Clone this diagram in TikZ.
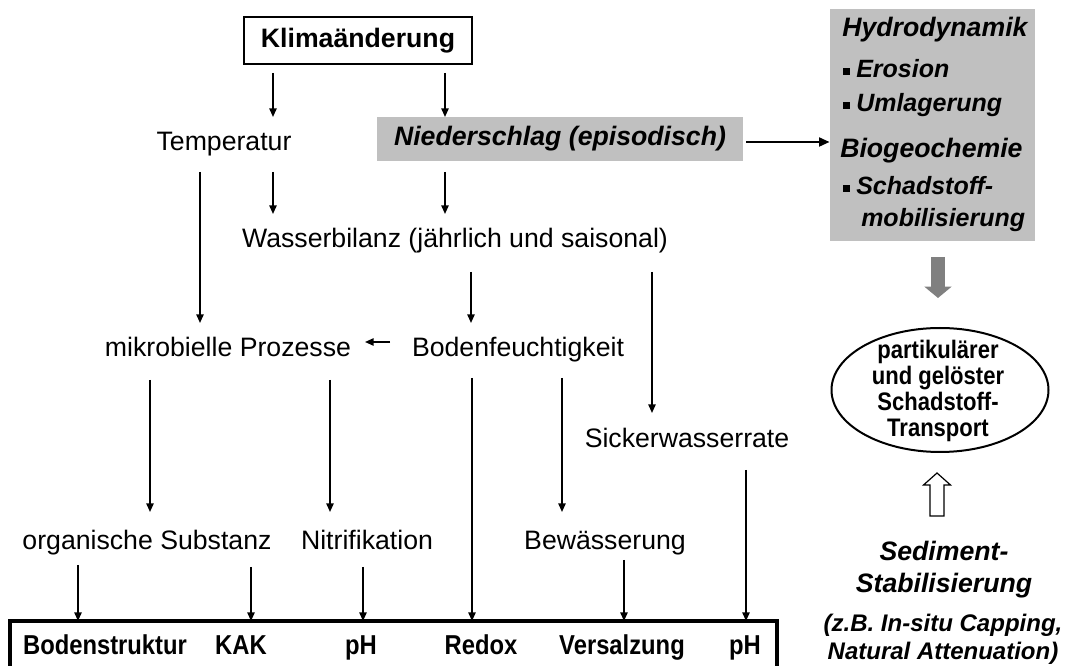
\documentclass[tikz,border=0pt]{standalone}
\usepackage{fontspec}
\setmainfont{Liberation Sans}
\newfontfamily\condsans{Liberation Sans}[FakeStretch=0.87]
\usetikzlibrary{arrows.meta,shapes.geometric}
\definecolor{boxgray}{RGB}{192,192,192}
\definecolor{arrgray}{RGB}{128,128,128}
\begin{document}
\begin{tikzpicture}[x=0.75pt,y=-0.75pt,
  reg/.style={font=\fontsize{20}{24}\selectfont, inner sep=0pt, anchor=base},
  bot/.style={font=\condsans\fontsize{20.5}{24}\selectfont\bfseries, inner sep=0pt, anchor=base},
  hd/.style={font=\fontsize{20}{24}\selectfont\bfseries\itshape, inner sep=0pt, anchor=base west},
  bl/.style={font=\fontsize{18.75}{22}\selectfont\bfseries\itshape, inner sep=0pt, anchor=base west},
  sedA/.style={font=\fontsize{20}{24}\selectfont\bfseries\itshape, inner sep=0pt, anchor=base},
  sedB/.style={font=\fontsize{18}{21}\selectfont\bfseries\itshape, inner sep=0pt, anchor=base},
  arr/.style={-{Triangle[length=6.5pt,width=5.5pt]}, line width=1.2pt},
  bullet/.style={fill=black}
]
\useasboundingbox (0,0) rectangle (1065,666);
\clip (0,0) rectangle (1065,666);

% ---- nodes ----
\node[draw, line width=2.2pt, minimum width=228*0.75pt, minimum height=47*0.75pt,
      inner sep=0pt, font=\fontsize{20}{24}\selectfont\bfseries] (klima) at (358,40.5) {Klimaänderung};
\node[reg] (temp) at (224,151) {Temperatur};
\node[fill=boxgray, minimum width=366*0.75pt, minimum height=44*0.75pt, inner sep=0pt,
      font=\fontsize{20}{24}\selectfont\bfseries\itshape] (nied) at (560,139) {Niederschlag (episodisch)};
\node[reg] (wasser) at (455,248) {Wasserbilanz (jährlich und saisonal)};
\node[reg] (mikro) at (228,357) {mikrobielle Prozesse};
\node[reg] (boden) at (518,357) {Bodenfeuchtigkeit};
\node[reg] (sicker) at (687,448) {Sickerwasserrate};
\node[reg] (organ) at (147,550) {organische Substanz};
\node[reg] (nitri) at (367,550) {Nitrifikation};
\node[reg] (bewae) at (605,550) {Bewässerung};

% bottom box
\node[draw, line width=2.5pt, minimum width=767*0.75pt, minimum height=80*0.75pt, inner sep=0pt] (soil) at (393.5,661) {};
\node[bot] (bstr) at (105,655) {Bodenstruktur};
\node[bot] (kak) at (241,655) {KAK};
\node[bot] (ph1) at (361,655) {pH};
\node[bot] (redox) at (481,655) {Redox};
\node[bot] (vers) at (622,655) {Versalzung};
\node[bot] (ph2) at (745,655) {pH};

% hydro box
\node[fill=boxgray, minimum width=205*0.75pt, minimum height=232*0.75pt, inner sep=0pt] (hydro) at (932.5,125) {};
\node[hd] (hyd) at (842,37) {Hydrodynamik};
\node[bl] (ero) at (856,78) {Erosion};
\node[bl] (uml) at (856,112) {Umlagerung};
\node[hd] (bio) at (840,158) {Biogeochemie};
\node[bl] (sch) at (856,195) {Schadstoff-};
\node[bl] (mob) at (861,227) {mobilisierung};
\fill[bullet] (843,68) rectangle (850,75);
\fill[bullet] (843,102) rectangle (850,109);
\fill[bullet] (843,185) rectangle (850,192);

% ellipse
\node[draw, ellipse, line width=1.5pt, minimum width=217*0.75pt, minimum height=124*0.75pt, inner sep=0pt] (trans) at (940,390) {};
\node[align=center, font=\condsans\fontsize{19}{19.5}\selectfont\bfseries, inner sep=0pt] (transtxt) at (938,391)
  {partikulärer\\und gelöster\\Schadstoff-\\Transport};

% sediment text
\node[sedA] (sed1) at (944,561) {Sediment-};
\node[sedA] (sed2) at (944,593) {Stabilisierung};
\node[sedB] (sed3) at (943,632) {(z.B. In-situ Capping,};
\node[sedB] (sed4) at (943,660) {Natural Attenuation)};

% ---- connectors ----
\foreach \n/\x/\ya/\yb in {
  ka/273/73/117, kb/445/73/117,
  ta/273/172/214, na/445/172/214,
  tl/200/172/323,
  wb/471/272/323, ws/652/272/413,
  mo/150/380/512, mn/330/380/512,
  br/472/378/621, bw/562/378/512,
  sp/746/470/621,
  ob/78/565/621, ok/251/567/621, np/363/567/621,
  bv/624/560/621}
{
  \coordinate (\n s) at (\x,\ya);
  \coordinate (\n e) at (\x,\yb);
  \draw[arr] (\n s) -- (\n e);
}
\coordinate (bms) at (390,342);
\coordinate (bme) at (365,342);
\draw[arr] (bms) -- (bme);

\coordinate (hs) at (746,142);
\draw[-{Triangle[length=8pt,width=6.5pt]}, line width=2pt] (hs) -- (hs -| hydro.west);

% gray block arrow
\coordinate (gas) at (938,257);
\coordinate (gae) at (938,298);
\draw[arrgray, line width=10.5pt, -{Triangle[length=8.5pt,width=20pt]}] (gas) -- (gae);

% white block arrow
\draw[line width=0.9pt, fill=white] (930,516) -- (930,485) -- (923.5,485) -- (937,473)
  -- (950.5,485) -- (944,485) -- (944,516) -- cycle;
\end{tikzpicture}
\end{document}
